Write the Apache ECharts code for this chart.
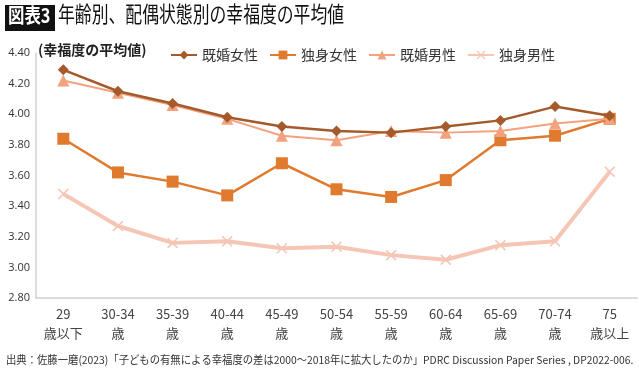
<!DOCTYPE html>
<html><head><meta charset="utf-8">
<script src="https://cdn.jsdelivr.net/npm/echarts@6/dist/echarts.min.js"></script>
<style>html,body{margin:0;padding:0;background:#fff}#c{width:639px;height:371px}</style>
</head><body><div id="c"></div>
<script>
const categories = ['29\n歳以下','30-34\n歳','35-39\n歳','40-44\n歳','45-49\n歳','50-54\n歳','55-59\n歳','60-64\n歳','65-69\n歳','70-74\n歳','75\n歳以上'];
const marriedWomen = [4.29,4.15,4.07,3.98,3.92,3.89,3.88,3.92,3.96,4.05,3.99];
const singleWomen  = [3.84,3.62,3.56,3.47,3.68,3.51,3.46,3.57,3.83,3.86,3.97];
const marriedMen   = [4.22,4.14,4.06,3.97,3.86,3.83,3.89,3.88,3.89,3.94,3.97];
const singleMen    = [3.48,3.27,3.16,3.17,3.125,3.135,3.08,3.05,3.145,3.17,3.625];
const seriesNames = ['既婚女性','独身女性','既婚男性','独身男性'];
const titleBox = '図表3';
const titleText = '年齢別、配偶状態別の幸福度の平均値';
const unitText = '(幸福度の平均値)';
const sourceText = '出典：佐藤一磨(2023)「子どもの有無による幸福度の差は2000～2018年に拡大したのか」PDRC Discussion Paper Series , DP2022-006.';

const FONT = '"Noto Sans CJK JP","Noto Sans",sans-serif';
const crossPath = 'path://M0,1L1,0L5,4L9,0L10,1L6,5L10,9L9,10L5,6L1,10L0,9L4,5Z';
const chart = echarts.init(document.getElementById('c'));
function mk(name, data, color, symbol, size, width, z){
  return {name, type:'line', data, symbol, symbolSize:size, showSymbol:true, z,
    lineStyle:{color, width}, itemStyle:{color}, emphasis:{disabled:true}, animation:false};
}
chart.setOption({
  animation:false,
  textStyle:{fontFamily:FONT},
  grid:{left:36,right:2,top:53,bottom:73,containLabel:false},
  legend:{data:seriesNames, left:165, top:43, itemWidth:26, itemHeight:11, itemGap:11,
    textStyle:{fontSize:14, color:'#333', fontFamily:FONT}},
  xAxis:{type:'category', data:categories, boundaryGap:true,
    axisLine:{lineStyle:{color:'#d0d0d0', width:1.5}}, axisTick:{show:false},
    axisLabel:{fontSize:13, color:'#444', lineHeight:19, margin:7, interval:0, fontFamily:FONT}},
  yAxis:{type:'value', min:2.8, max:4.4, interval:0.2,
    axisLine:{show:true, lineStyle:{color:'#d0d0d0', width:1.5}}, axisTick:{show:false},
    splitLine:{show:false},
    axisLabel:{fontSize:11, color:'#333', margin:6, formatter:v=>v.toFixed(2), fontFamily:'"Open Sans",sans-serif'}},
  series:[
    mk(seriesNames[3], singleMen, '#f5c6b5', crossPath, 11, 4, 1),
    mk(seriesNames[1], singleWomen, '#e07a2e', 'rect', 12, 2.5, 2),
    mk(seriesNames[2], marriedMen, '#f2a27e', 'triangle', 12, 2, 3),
    mk(seriesNames[0], marriedWomen, '#a45a2a', 'diamond', 11, 2.5, 4)
  ],
  graphic:[
    {type:'rect', left:5, top:5, shape:{width:50, height:26}, style:{fill:'#111'}},
    {type:'text', x:8, y:5, scaleX:0.82, style:{text:titleBox, fill:'#fff', font:'bold 20px '+FONT}},
    {type:'text', x:58, y:3, scaleX:0.765, style:{text:titleText, fill:'#111', font:'22px '+FONT}},
    {type:'text', x:38, y:43, style:{text:unitText, fill:'#222', font:'bold 14px '+FONT}},
    {type:'text', x:6, y:354, scaleX:0.94, style:{text:sourceText, fill:'#333', font:'11px '+FONT}}
  ]
});
</script></body></html>
